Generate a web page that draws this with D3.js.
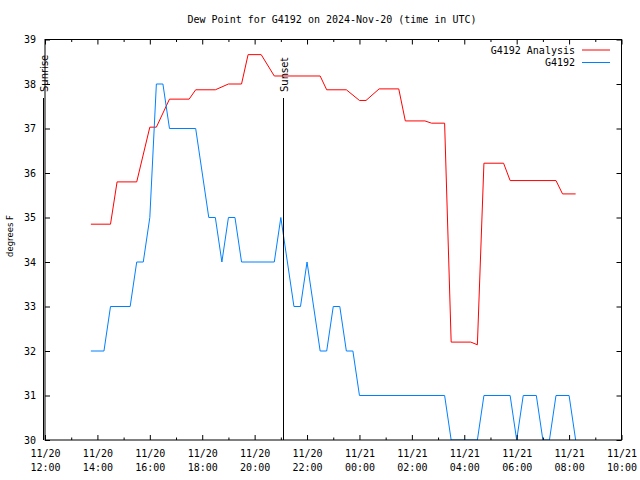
<!DOCTYPE html>
<html>
<head>
<meta charset="utf-8">
<script src="https://cdn.jsdelivr.net/npm/d3@7"></script>
<style>
  body { margin: 0; background: #fff; }
  text { fill: #000; }
</style>
</head>
<body>
<div id="chart"></div>
<script>
// dew point readings, times in UTC
let analysisTimes = ["11/20 13:45", "11/20 14:30", "11/20 14:45", "11/20 15:30", "11/20 16:00", "11/20 16:15",
    "11/20 16:45", "11/20 17:30", "11/20 17:45", "11/20 18:30", "11/20 19:00", "11/20 19:30", "11/20 19:45",
    "11/20 20:15", "11/20 20:45", "11/20 22:30", "11/20 22:45", "11/20 23:30", "11/21 00:00", "11/21 00:15",
    "11/21 00:45", "11/21 01:30", "11/21 01:45", "11/21 02:30", "11/21 02:45", "11/21 03:15", "11/21 03:30",
    "11/21 04:15", "11/21 04:30", "11/21 04:45", "11/21 05:30", "11/21 05:45", "11/21 07:30", "11/21 07:45",
    "11/21 08:15"];
let analysisValues = [34.85, 34.85, 35.8, 35.8, 37.03, 37.03,
    37.66, 37.66, 37.87, 37.87, 38.0, 38.0, 38.66,
    38.66, 38.18, 38.18, 37.87, 37.87, 37.63, 37.63,
    37.89, 37.89, 37.17, 37.17, 37.12, 37.12, 32.2,
    32.2, 32.14, 36.22, 36.22, 35.83, 35.83, 35.53,
    35.53];

let stationTimes = ["11/20 13:45", "11/20 14:15", "11/20 14:30", "11/20 15:15", "11/20 15:30", "11/20 15:45",
    "11/20 16:00", "11/20 16:15", "11/20 16:30", "11/20 16:45", "11/20 17:45", "11/20 18:15", "11/20 18:30",
    "11/20 18:45", "11/20 19:00", "11/20 19:15", "11/20 19:30", "11/20 20:45", "11/20 21:00", "11/20 21:30",
    "11/20 21:45", "11/20 22:00", "11/20 22:30", "11/20 22:45", "11/20 23:00", "11/20 23:15", "11/20 23:30",
    "11/20 23:45", "11/21 00:00", "11/21 03:15", "11/21 03:30", "11/21 04:30", "11/21 04:45", "11/21 05:45",
    "11/21 06:00", "11/21 06:15", "11/21 06:45", "11/21 07:00", "11/21 07:15", "11/21 07:30", "11/21 08:00",
    "11/21 08:15"];
let stationValues = [32, 32, 33, 33, 34, 34,
    35, 38, 38, 37, 37, 35, 35,
    34, 35, 35, 34, 34, 35, 33,
    33, 34, 32, 32, 33, 33, 32,
    32, 31, 31, 30, 30, 31, 31,
    30, 31, 31, 30, 30, 31, 31,
    30];

let sunrise = "11/20 11:56";
let sunset = "11/20 21:06";
let xStart = "11/20 12:00";
let xEnd = "11/21 10:00";
let yTicks = [30, 31, 32, 33, 34, 35, 36, 37, 38, 39];

const width = 640, height = 480;
const plotLeft = 45, plotRight = 621.5, plotTop = 39.5, plotBottom = 440;
const mono = "'DejaVu Sans Mono', monospace";
const sans = "'DejaVu Sans', sans-serif";

let parse = d3.utcParse("%Y/%m/%d %H:%M");
let t = s => parse("2024/" + s);

let svg = d3.select("#chart")
    .append("svg")
    .attr("width", width)
    .attr("height", height);

let x = d3.scaleUtc()
    .domain([t(xStart), t(xEnd)])
    .range([plotLeft, plotRight]);

let y = d3.scaleLinear()
    .domain([30, 39])
    .range([plotBottom, plotTop]);

let majorTicks = d3.utcHour.every(2).range(t(xStart), d3.utcMinute.offset(t(xEnd), 1));
let minorTicks = d3.utcHour.every(1).range(t(xStart), t(xEnd)).filter(d => d.getUTCHours() % 2 == 1);

svg.append("text")
    .attr("x", 332)
    .attr("y", 23)
    .style("text-anchor", "middle")
    .style("font-family", mono)
    .style("font-size", "10px")
    .text("Dew Point for G4192 on 2024-Nov-20 (time in UTC)");

svg.append("text")
    .attr("transform", `translate(13, 236) rotate(-90)`)
    .style("text-anchor", "middle")
    .style("font-family", sans)
    .style("font-size", "8.5px")
    .text("degrees F");

// clip data to the plot area
svg.append("clipPath").attr("id", "plot")
    .append("rect")
    .attr("x", plotLeft).attr("y", plotTop)
    .attr("width", plotRight - plotLeft).attr("height", plotBottom - plotTop);

let plot = svg.append("g").attr("clip-path", "url(#plot)");

let line = d3.line()
    .x(d => x(d.time))
    .y(d => y(d.value));

let analysis = analysisTimes.map((s, i) => ({ time: t(s), value: analysisValues[i] }));
let station = stationTimes.map((s, i) => ({ time: t(s), value: stationValues[i] }));

plot.append("path")
    .datum(analysis)
    .attr("fill", "none")
    .attr("stroke", "#ff0000")
    .attr("stroke-width", 1)
    .attr("d", line);

plot.append("path")
    .datum(station)
    .attr("fill", "none")
    .attr("stroke", "#0080ff")
    .attr("stroke-width", 1)
    .attr("d", line);

// sunrise / sunset markers
[[sunrise, "Sunrise"], [sunset, "Sunset"]].forEach(([s, label]) => {
    let px = Math.round(x(t(s))) + 0.5;
    svg.append("line")
        .attr("x1", px).attr("x2", px)
        .attr("y1", 98).attr("y2", plotBottom)
        .attr("stroke", "#000")
        .attr("stroke-width", 1);
    svg.append("text")
        .attr("transform", `translate(${px + 1}, 92) rotate(-90)`)
        .attr("dy", "0.35em")
        .style("text-anchor", "start")
        .style("font-family", sans)
        .style("font-size", "10px")
        .text(label);
});

// axes, ticks pointing inward
let xLabel = d => d3.utcFormat("%m/%d")(d) + "|" + d3.utcFormat("%H:%M")(d);

let xBottom = svg.append("g")
    .attr("transform", `translate(0, ${plotBottom})`)
    .call(d3.axisBottom(x).tickValues(majorTicks).tickSize(-5).tickPadding(17).tickFormat(xLabel));
xBottom.selectAll(".tick text").each(function(d) {
    let parts = xLabel(d).split("|");
    let el = d3.select(this).text(null);
    el.append("tspan").attr("x", 0).attr("dy", 0).text(parts[0]);
    el.append("tspan").attr("x", 0).attr("dy", "1.35em").text(parts[1]);
});
svg.append("g")
    .attr("transform", `translate(0, ${plotBottom})`)
    .call(d3.axisBottom(x).tickValues(minorTicks).tickSize(-2.5).tickFormat(""));

svg.append("g")
    .attr("transform", `translate(0, ${plotTop})`)
    .call(d3.axisTop(x).tickValues(majorTicks).tickSize(-5).tickFormat(""));
svg.append("g")
    .attr("transform", `translate(0, ${plotTop})`)
    .call(d3.axisTop(x).tickValues(minorTicks).tickSize(-2.5).tickFormat(""));

svg.append("g")
    .attr("transform", `translate(${plotLeft}, 0)`)
    .call(d3.axisLeft(y).tickValues(yTicks).tickSize(-5).tickPadding(9).tickFormat(d3.format("d")));
svg.append("g")
    .attr("transform", `translate(${plotRight}, 0)`)
    .call(d3.axisRight(y).tickValues(yTicks).tickSize(-5).tickFormat(""));

svg.selectAll(".domain").remove();
svg.selectAll(".tick text")
    .style("font-family", mono)
    .style("font-size", "10px");

svg.append("rect")
    .attr("x", plotLeft).attr("y", plotTop)
    .attr("width", plotRight - plotLeft).attr("height", plotBottom - plotTop)
    .attr("fill", "none")
    .attr("stroke", "#000")
    .attr("stroke-width", 1);

// legend
let legend = [["G4192 Analysis", "#ff0000"], ["G4192", "#0080ff"]];
legend.forEach(([name, color], i) => {
    let ly = 50 + i * 12.5;
    svg.append("text")
        .attr("x", 575)
        .attr("y", ly)
        .attr("dy", "0.35em")
        .style("text-anchor", "end")
        .style("font-family", mono)
        .style("font-size", "10px")
        .text(name);
    svg.append("line")
        .attr("x1", 582).attr("x2", 610)
        .attr("y1", ly).attr("y2", ly)
        .attr("stroke", color)
        .attr("stroke-width", 1);
});
</script>
</body>
</html>
